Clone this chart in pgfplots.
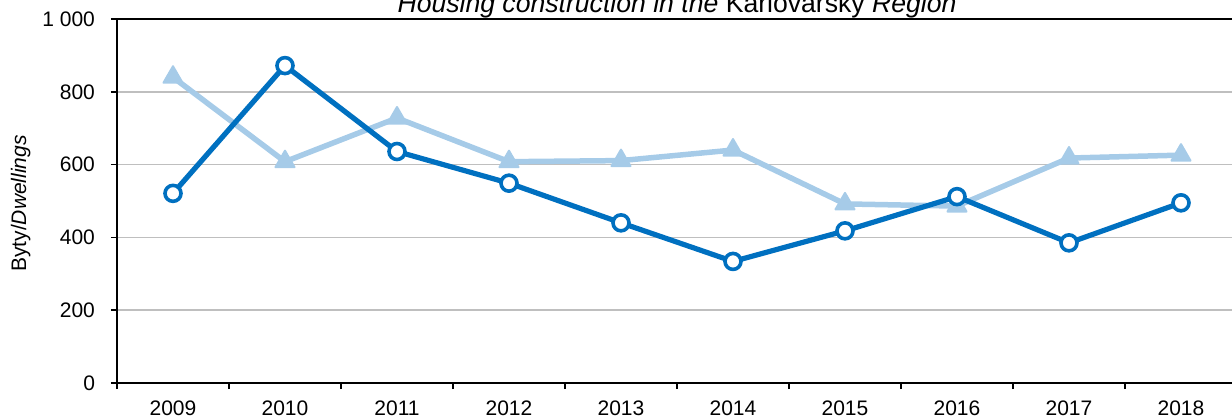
\documentclass[border=0pt]{standalone}
\usepackage{fontspec}
\setmainfont{Liberation Sans}
\usepackage{pgfplots}
\pgfplotsset{compat=1.18}

\definecolor{darkblue}{RGB}{0,112,192}
\definecolor{lightblue}{RGB}{166,203,232}
\definecolor{gridgray}{RGB}{191,191,191}

\begin{document}
\begin{tikzpicture}
\begin{axis}[
  name=ax,
  scale only axis,
  width=560pt, height=182pt,
  xmin=-0.5, xmax=9.5,
  ymin=0, ymax=1000,
  axis line style={black, line width=1pt},
  tick align=outside,
  xtick pos=bottom, ytick pos=left,
  major tick length=3pt,
  tick style={black, line width=0.8pt},
  xtick={-0.5,0.5,...,9.5},
  xticklabels={},
  extra x ticks={0,1,2,3,4,5,6,7,8,9},
  extra x tick labels={2009,2010,2011,2012,2013,2014,2015,2016,2017,2018},
  extra x tick style={major tick length=0pt, grid=none, xtick pos=bottom},
  ytick={0,200,400,600,800,1000},
  yticklabels={0,200,400,600,800,1 000},
  ymajorgrids,
  grid style={gridgray, line width=0.8pt},
  ticklabel style={font=\fontsize{10.5}{12}\selectfont},
  xticklabel style={yshift=-5.5pt},
  yticklabel style={xshift=-4.5pt},
  ylabel={Byty/\textit{Dwellings}},
  ylabel style={at={(axis description cs:-0.077,0.493)}, anchor=south, inner sep=0pt,
    rotate=0, font=\fontsize{10.5}{12}\selectfont},
  every axis title shift=0pt,
  title={\textit{Housing construction in the} Karlovarský \textit{Region}},
  title style={at={(axis description cs:0.5,1)}, anchor=base, yshift=3.5pt,
    font=\fontsize{13.3}{15}\selectfont},
  clip=false,
]
% light series: triangles
\addplot[lightblue, line width=2.75pt, line join=round,
  mark=triangle*, mark size=5.5pt,
  mark options={fill=lightblue, draw=lightblue, line width=1pt, line join=round}]
  coordinates {(0,840) (1,608) (2,728) (3,608) (4,611) (5,640) (6,492) (7,486) (8,618) (9,626)};
% dark series: open circles
\addplot[darkblue, line width=2.6pt, line join=round,
  mark=*, mark size=4pt,
  mark options={fill=white, draw=darkblue, line width=1.8pt}]
  coordinates {(0,521) (1,872) (2,636) (3,549) (4,440) (5,334) (6,418) (7,512) (8,385) (9,495)};
\end{axis}
\pgfresetboundingbox
\path[use as bounding box] ([shift={(-58.5pt,-18pt)}]ax.south west) rectangle ([shift={(-2.5pt,9.5pt)}]ax.north east);
\end{tikzpicture}
\end{document}
